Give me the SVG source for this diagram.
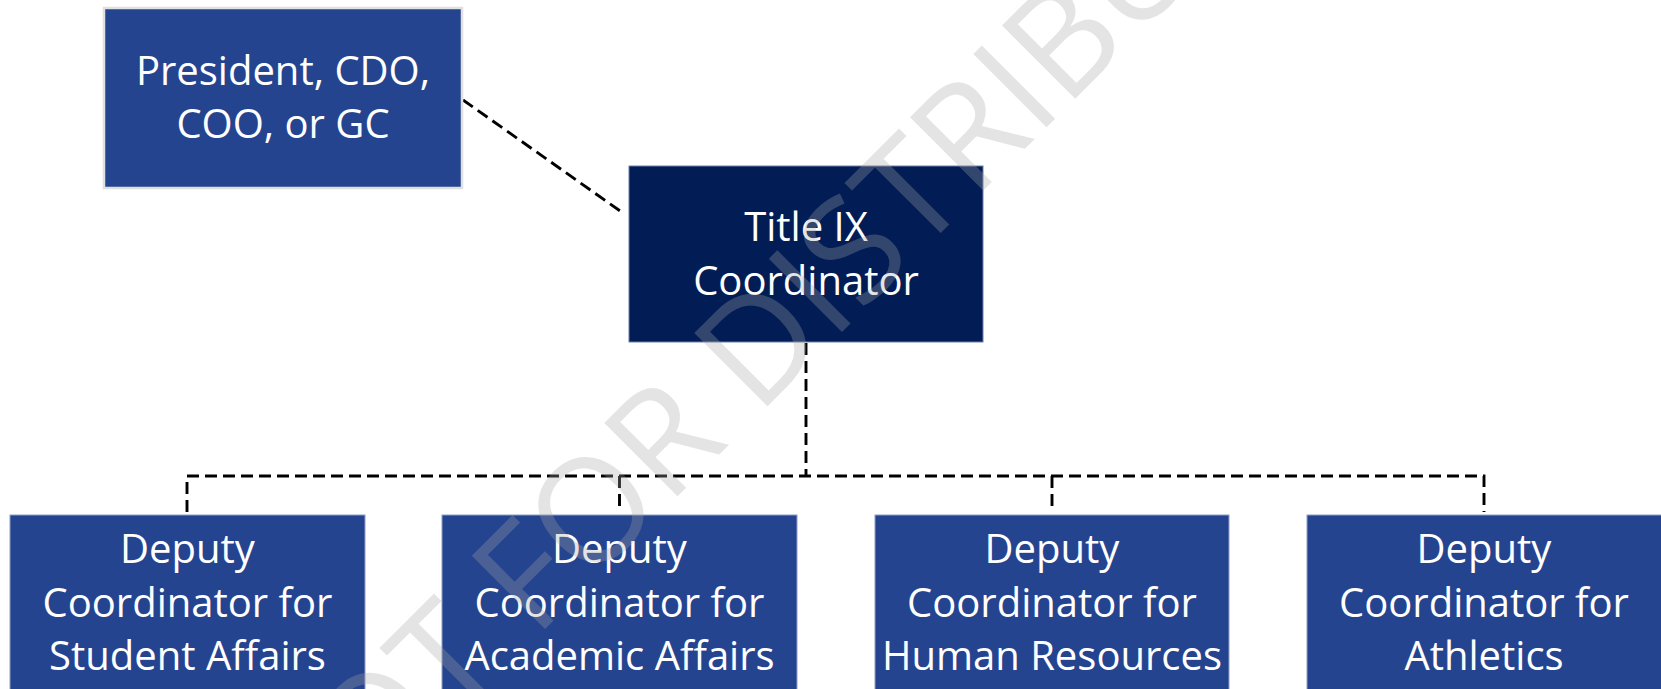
<svg xmlns="http://www.w3.org/2000/svg" width="1661" height="689" viewBox="0 0 1661 689">
<style>
.box{fill:#25448F;stroke:#8e9dc4;stroke-width:1}
.dark{fill:#021D55;stroke:#6f7fa8;stroke-width:1}
.lbl{font-family:"Open Sans","Noto Sans",sans-serif;font-size:40px;fill:#ffffff;text-anchor:middle}
.conn{fill:none;stroke:#000;stroke-width:2.9;stroke-dasharray:12 6}
.wm{font-family:"Open Sans","Noto Sans",sans-serif;font-size:145px;fill:#a6a6a6;fill-opacity:0.3}
</style>
<rect width="1661" height="689" fill="#ffffff"/>
<g id="connectors">
<path class="conn" d="M463,100 L623,213"/>
<path class="conn" d="M806,343 V476"/>
<path class="conn" d="M187,512 V476 H1484 V512"/>
<path class="conn" d="M619.5,476 V512"/>
<path class="conn" d="M1052,476 V512"/>
</g>
<g id="president">
<rect x="104" y="8" width="358" height="180" fill="#25448F" stroke="#e0e0e0" stroke-width="2.5"/>
<text class="lbl" x="283" y="85">President, CDO,</text>
<text class="lbl" x="283" y="138">COO, or GC</text>
</g>
<g id="title-ix">
<rect class="dark" x="629" y="166" width="354" height="176"/>
<text class="lbl" x="806" y="241">Title IX</text>
<text class="lbl" x="806" y="295">Coordinator</text>
</g>
<g id="deputy-student">
<rect class="box" x="10" y="515" width="355" height="190"/>
<text class="lbl" x="187.5" y="563">Deputy</text>
<text class="lbl" x="187.5" y="617">Coordinator for</text>
<text class="lbl" x="187.5" y="670">Student Affairs</text>
</g>
<g id="deputy-academic">
<rect class="box" x="442" y="515" width="355" height="190"/>
<text class="lbl" x="619.5" y="563">Deputy</text>
<text class="lbl" x="619.5" y="617">Coordinator for</text>
<text class="lbl" x="619.5" y="670">Academic Affairs</text>
</g>
<g id="deputy-hr">
<rect class="box" x="875" y="515" width="354" height="190"/>
<text class="lbl" x="1052" y="563">Deputy</text>
<text class="lbl" x="1052" y="617">Coordinator for</text>
<text class="lbl" x="1052" y="670">Human Resources</text>
</g>
<g id="deputy-athletics">
<rect class="box" x="1307" y="515" width="360" height="190"/>
<text class="lbl" x="1484" y="563">Deputy</text>
<text class="lbl" x="1484" y="617">Coordinator for</text>
<text class="lbl" x="1484" y="670">Athletics</text>
</g>
<text class="wm" transform="rotate(-45)" x="-413" y="830">NOT FOR DISTRIBUTION</text>
</svg>
